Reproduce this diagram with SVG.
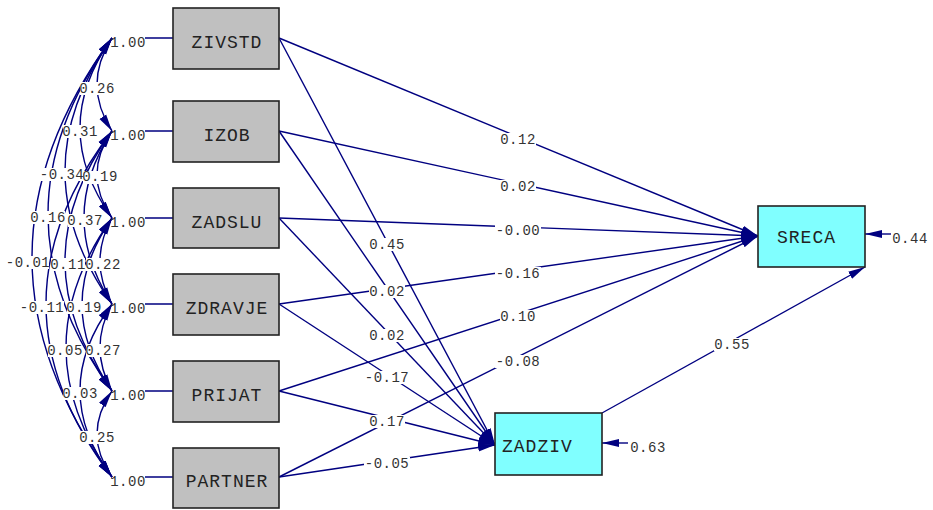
<svg xmlns="http://www.w3.org/2000/svg" width="933" height="510" viewBox="0 0 933 510">
<style>
.bg{fill:#ffffff}
.exo{fill:#c0c0c0;stroke:#222222;stroke-width:1.6}
.endo{fill:#80ffff;stroke:#222222;stroke-width:1.6}
.nm{font-family:"Liberation Mono","DejaVu Sans Mono",monospace;font-size:18px;letter-spacing:1px;fill:#222222}
.lb{font-family:"Liberation Mono","DejaVu Sans Mono",monospace;font-size:14px;letter-spacing:0.5px;fill:#333333;text-anchor:middle}
.ln{fill:none;stroke:#000080;stroke-width:1.4}
.arr{fill:none;stroke:#000080;stroke-width:1.4;marker-end:url(#ah)}
.cv{fill:none;stroke:#000080;stroke-width:1.4;marker-start:url(#ah);marker-end:url(#ah)}
.lbg{fill:#ffffff}
</style>
<defs>
<marker id="ah" viewBox="0 0 17 9" refX="17" refY="4.5" markerWidth="17" markerHeight="9" markerUnits="userSpaceOnUse" orient="auto-start-reverse">
<path d="M0,0.5 L17,4.5 L0,8.5 z" fill="#000080"/>
</marker>
</defs>
<rect class="bg" x="0" y="0" width="933" height="510"/>

<g id="connectors">
<path class="ln" d="M145,38 H173 M145,131 H173 M145,218 H173 M145,304 H173 M145,391 H173 M145,477 H173"/>
<path class="cv" d="M112,38 Q82,84.5 112,131"/>
<path class="cv" d="M112,38 Q48,128 112,218"/>
<path class="cv" d="M112,38 Q18,171 112,304"/>
<path class="cv" d="M112,38 Q-16,214.5 112,391"/>
<path class="cv" d="M112,38 Q-48,257.5 112,477"/>
<path class="cv" d="M112,131 Q82,174.5 112,218"/>
<path class="cv" d="M112,131 Q56,217.5 112,304"/>
<path class="cv" d="M112,131 Q18,261 112,391"/>
<path class="cv" d="M112,131 Q-20,304 112,477"/>
<path class="cv" d="M112,218 Q88,261 112,304"/>
<path class="cv" d="M112,218 Q52,304.5 112,391"/>
<path class="cv" d="M112,218 Q20,347.5 112,477"/>
<path class="cv" d="M112,304 Q88,347.5 112,391"/>
<path class="cv" d="M112,304 Q48,390.5 112,477"/>
<path class="cv" d="M112,391 Q82,434 112,477"/>
<path class="arr" d="M279,38 L758,236"/>
<path class="arr" d="M279,131 L758,236"/>
<path class="arr" d="M279,218 L758,236"/>
<path class="arr" d="M279,304 L758,236"/>
<path class="arr" d="M279,391 L758,236"/>
<path class="arr" d="M279,477 L758,236"/>
<path class="arr" d="M279,38 L495,445"/>
<path class="arr" d="M279,131 L495,445"/>
<path class="arr" d="M279,218 L495,445"/>
<path class="arr" d="M279,304 L495,445"/>
<path class="arr" d="M279,391 L495,445"/>
<path class="arr" d="M279,477 L495,445"/>
<path class="arr" d="M602,413 L865,267"/>
<path class="arr" d="M891,234 L865,234"/>
<path class="arr" d="M628,443 L602,443"/>
</g>

<g id="labels">
<text class="lb" x="128" y="46.5">1.00</text>
<text class="lb" x="128" y="139.5">1.00</text>
<text class="lb" x="128" y="226.5">1.00</text>
<text class="lb" x="128" y="312.5">1.00</text>
<text class="lb" x="128" y="399.5">1.00</text>
<text class="lb" x="128" y="485.5">1.00</text>
<rect class="lbg" x="80" y="82" width="34" height="13"/><text class="lb" x="97" y="92.5">0.26</text>
<rect class="lbg" x="63" y="125" width="34" height="13"/><text class="lb" x="80" y="135.5">0.31</text>
<rect class="lbg" x="83" y="171" width="34" height="13"/><text class="lb" x="100" y="181">0.19</text>
<rect class="lbg" x="40" y="168" width="43" height="13"/><text class="lb" x="62" y="178.5">-0.34</text>
<rect class="lbg" x="31" y="211" width="34" height="13"/><text class="lb" x="48" y="221.5">0.16</text>
<rect class="lbg" x="68" y="214" width="34" height="13"/><text class="lb" x="85" y="224.5">0.37</text>
<rect class="lbg" x="86" y="258" width="34" height="13"/><text class="lb" x="103" y="268.5">0.22</text>
<rect class="lbg" x="51" y="258" width="34" height="13"/><text class="lb" x="68" y="268.5">0.11</text>
<rect class="lbg" x="6" y="256" width="43" height="13"/><text class="lb" x="28" y="266.5">-0.01</text>
<rect class="lbg" x="67" y="301" width="34" height="13"/><text class="lb" x="84" y="311.5">0.19</text>
<rect class="lbg" x="21" y="301" width="43" height="13"/><text class="lb" x="42" y="311.5">-0.11</text>
<rect class="lbg" x="86" y="344" width="34" height="13"/><text class="lb" x="103" y="354.5">0.27</text>
<rect class="lbg" x="48" y="344" width="34" height="13"/><text class="lb" x="65" y="354.5">0.05</text>
<rect class="lbg" x="63" y="387" width="34" height="13"/><text class="lb" x="80" y="397.5">0.03</text>
<rect class="lbg" x="80" y="431" width="34" height="13"/><text class="lb" x="97" y="441.5">0.25</text>
<rect class="lbg" x="500" y="133" width="36" height="13"/><text class="lb" x="518" y="144">0.12</text>
<rect class="lbg" x="500" y="180" width="36" height="13"/><text class="lb" x="518" y="190.5">0.02</text>
<rect class="lbg" x="495" y="224" width="46" height="13"/><text class="lb" x="518" y="235">-0.00</text>
<rect class="lbg" x="495" y="267" width="46" height="13"/><text class="lb" x="518" y="278">-0.16</text>
<rect class="lbg" x="500" y="310" width="36" height="13"/><text class="lb" x="518" y="321">0.10</text>
<rect class="lbg" x="495" y="355" width="46" height="13"/><text class="lb" x="518" y="365.5">-0.08</text>
<rect class="lbg" x="369" y="238" width="36" height="13"/><text class="lb" x="387" y="249">0.45</text>
<rect class="lbg" x="369" y="285" width="36" height="13"/><text class="lb" x="387" y="295.5">0.02</text>
<rect class="lbg" x="369" y="329" width="36" height="13"/><text class="lb" x="387" y="340">0.02</text>
<rect class="lbg" x="364" y="371" width="46" height="13"/><text class="lb" x="387" y="381.5">-0.17</text>
<rect class="lbg" x="369" y="415" width="36" height="13"/><text class="lb" x="387" y="425.5">0.17</text>
<rect class="lbg" x="364" y="457" width="46" height="13"/><text class="lb" x="387" y="468">-0.05</text>
<rect class="lbg" x="714" y="338" width="36" height="13"/><text class="lb" x="732" y="348.5">0.55</text>
<text class="lb" x="910" y="243">0.44</text>
<text class="lb" x="648" y="451.5">0.63</text>
</g>

<g id="node-ZIVSTD"><rect class="exo" x="173" y="8" width="106" height="61"/><text class="nm" x="227" y="47.5" text-anchor="middle">ZIVSTD</text></g>
<g id="node-IZOB"><rect class="exo" x="173" y="101" width="106" height="61"/><text class="nm" x="227" y="140.5" text-anchor="middle">IZOB</text></g>
<g id="node-ZADSLU"><rect class="exo" x="173" y="188" width="106" height="60"/><text class="nm" x="227" y="227.5" text-anchor="middle">ZADSLU</text></g>
<g id="node-ZDRAVJE"><rect class="exo" x="173" y="274" width="106" height="61"/><text class="nm" x="227" y="313.5" text-anchor="middle">ZDRAVJE</text></g>
<g id="node-PRIJAT"><rect class="exo" x="173" y="361" width="106" height="61"/><text class="nm" x="227" y="400.5" text-anchor="middle">PRIJAT</text></g>
<g id="node-PARTNER"><rect class="exo" x="173" y="448" width="106" height="60"/><text class="nm" x="227" y="487" text-anchor="middle">PARTNER</text></g>
<g id="node-SRECA"><rect class="endo" x="758" y="206" width="107" height="61"/><text class="nm" x="777" y="243">SRECA</text></g>
<g id="node-ZADZIV"><rect class="endo" x="495" y="413" width="107" height="62"/><text class="nm" x="502" y="451.5">ZADZIV</text></g>
</svg>
